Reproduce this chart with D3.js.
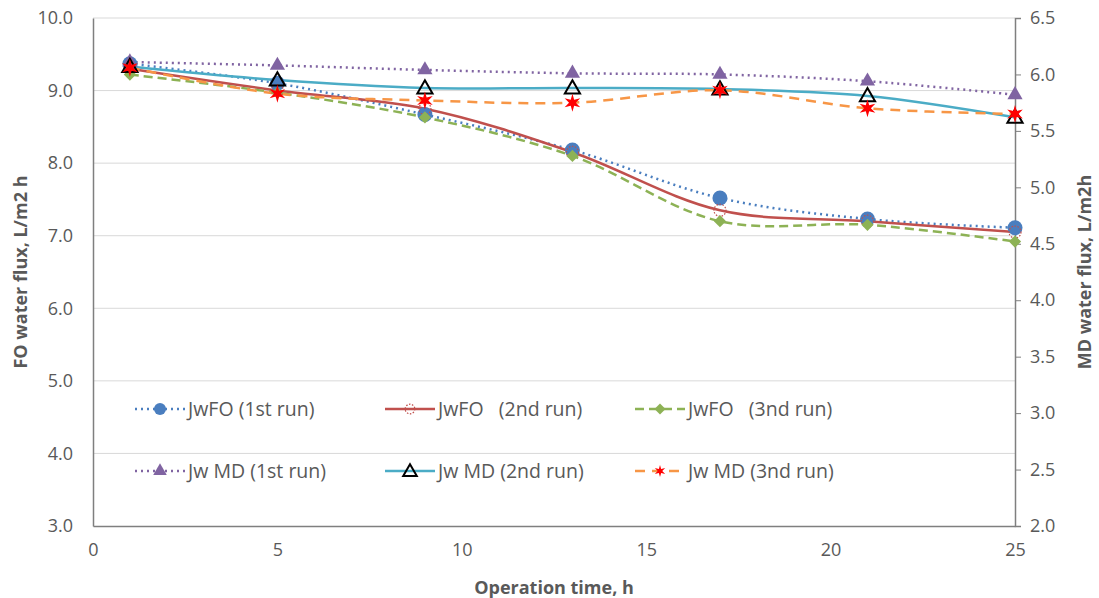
<!DOCTYPE html>
<html>
<head>
<meta charset="utf-8">
<script src="https://cdn.jsdelivr.net/npm/d3@7"></script>
<style>
  body { margin: 0; background: #fff; }
  text { font-family: "Open Sans", "Liberation Sans", sans-serif; fill: #595959; }
</style>
</head>
<body>
<svg id="chart" width="1099" height="598"></svg>
<script>
  // data
  var hours = [1, 5, 9, 13, 17, 21, 25];
  var foRun1 = [9.37, 9.10, 8.67, 8.18, 7.52, 7.23, 7.11];
  var foRun2 = [9.30, 9.00, 8.75, 8.15, 7.35, 7.20, 7.05];
  var foRun3 = [9.22, 8.97, 8.63, 8.10, 7.20, 7.15, 6.92];
  var mdRun1 = [6.11, 6.08, 6.04, 6.01, 6.00, 5.94, 5.82];
  var mdRun2 = [6.07, 5.95, 5.88, 5.88, 5.87, 5.81, 5.62];
  var mdRun3 = [6.06, 5.83, 5.77, 5.75, 5.86, 5.70, 5.65];
  var leftTicks = [3, 4, 5, 6, 7, 8, 9, 10];
  var rightTicks = [2, 2.5, 3, 3.5, 4, 4.5, 5, 5.5, 6, 6.5];
  var xTicks = [0, 5, 10, 15, 20, 25];

  var svg = d3.select('#chart'),
      margin = {top: 18, right: 84, bottom: 72, left: 93},
      width = 1099 - margin.left - margin.right,
      height = 598 - margin.top - margin.bottom,
      g = svg.append('g').attr('transform', 'translate(' + margin.left + ',' + margin.top + ')');

  var x = d3.scaleLinear().domain([0, 25]).range([0, width]);
  var yL = d3.scaleLinear().domain([3, 10]).range([height, 0]);
  var yR = d3.scaleLinear().domain([2, 6.5]).range([height, 0]);

  // grid lines
  g.append('g').selectAll('line')
      .data(leftTicks.slice(1))
    .enter().append('line')
      .attr('x1', 0).attr('x2', width)
      .attr('y1', function (d) { return yL(d); })
      .attr('y2', function (d) { return yL(d); })
      .attr('stroke', '#d9d9d9').attr('stroke-width', 1);

  // axes
  var axL = g.append('g')
      .call(d3.axisLeft(yL).tickValues(leftTicks).tickFormat(d3.format('.1f')).tickSize(0).tickPadding(20));
  var axB = g.append('g')
      .attr('transform', 'translate(0,' + height + ')')
      .call(d3.axisBottom(x).tickValues(xTicks).tickSize(0).tickPadding(17));
  var axR = g.append('g')
      .attr('transform', 'translate(' + width + ',0)')
      .call(d3.axisRight(yR).tickValues(rightTicks).tickFormat(d3.format('.1f')).tickSize(6).tickPadding(9));
  [axL, axB, axR].forEach(function (a) {
    a.select('.domain').attr('stroke', '#7f7f7f').attr('stroke-width', 1.5);
    a.selectAll('.tick line').attr('stroke', '#7f7f7f');
    a.selectAll('.tick text').style('font-size', '18px').attr('fill', '#595959');
  });

  // axis titles
  svg.append('text')
      .attr('x', margin.left + width / 2).attr('y', 594)
      .attr('text-anchor', 'middle')
      .style('font-size', '18px').style('font-weight', 'bold')
      .text('Operation time, h');
  svg.append('text')
      .attr('transform', 'translate(27,' + (margin.top + height / 2) + ') rotate(-90)')
      .attr('text-anchor', 'middle')
      .style('font-size', '18px').style('font-weight', 'bold')
      .text('FO water flux, L/m2 h');
  svg.append('text')
      .attr('transform', 'translate(1091,' + (margin.top + height / 2) + ') rotate(-90)')
      .attr('text-anchor', 'middle')
      .style('font-size', '18px').style('font-weight', 'bold')
      .text('MD water flux, L/m2h');

  var series = [
    {name: 'JwFO (1st run)', vals: foRun1, y: yL, color: '#4a7ebf', dash: '2,4', marker: 'circle'},
    {name: 'JwFO   (2nd run)', vals: foRun2, y: yL, color: '#c0504d', dash: null, marker: 'ring'},
    {name: 'JwFO   (3nd run)', vals: foRun3, y: yL, color: '#8db255', dash: '9,5', marker: 'diamond'},
    {name: 'Jw MD (1st run)', vals: mdRun1, y: yR, color: '#8064a2', dash: '2,4', marker: 'triFill'},
    {name: 'Jw MD (2nd run)', vals: mdRun2, y: yR, color: '#4bacc6', dash: null, marker: 'triOpen'},
    {name: 'Jw MD (3nd run)', vals: mdRun3, y: yR, color: '#f79646', dash: '10,7', marker: 'star'}
  ];

  // six pointed thin star, like the excel one
  function starPath(r) {
    var pts = d3.range(12).map(function (i) {
      var a = i * Math.PI / 6 - Math.PI / 2, rr = i % 2 ? r * 0.38 : r;
      return [rr * Math.cos(a), rr * Math.sin(a)];
    });
    return 'M' + pts.join('L') + 'Z';
  }

  function drawMarker(sel, s, cx, cy, small) {
    var k = small ? 0.8 : 1;
    if (s.marker === 'circle') {
      sel.append('circle').attr('cx', cx).attr('cy', cy).attr('r', 7.5 * k).attr('fill', s.color);
    } else if (s.marker === 'ring') {
      sel.append('circle').attr('cx', cx).attr('cy', cy).attr('r', 6 * k)
          .attr('fill', 'none').attr('stroke', s.color).attr('stroke-width', 1.2).attr('stroke-dasharray', '1.5,1.5');
    } else if (s.marker === 'diamond') {
      sel.append('path').attr('transform', 'translate(' + cx + ',' + cy + ') rotate(45)')
          .attr('d', d3.symbol().type(d3.symbolSquare).size(75 * k))
          .attr('fill', s.color);
    } else if (s.marker === 'triFill') {
      sel.append('path').attr('transform', 'translate(' + cx + ',' + cy + ')')
          .attr('d', d3.symbol().type(d3.symbolTriangle).size(100 * k))
          .attr('fill', s.color);
    } else if (s.marker === 'triOpen') {
      sel.append('path').attr('transform', 'translate(' + cx + ',' + (cy + 1) + ')')
          .attr('d', d3.symbol().type(d3.symbolTriangle).size(100 * k))
          .attr('fill', 'none').attr('stroke', '#000').attr('stroke-width', 2);
    } else if (s.marker === 'star') {
      sel.append('path').attr('transform', 'translate(' + cx + ',' + cy + ')')
          .attr('d', starPath(small ? 6 : 9))
          .attr('fill', '#ff0000');
    }
  }

  // lines then markers
  series.forEach(function (s) {
    var line = d3.line()
        .x(function (d, i) { return x(hours[i]); })
        .y(function (d) { return s.y(d); })
        .curve(d3.curveCatmullRom.alpha(0.5));
    g.append('path')
        .attr('d', line(s.vals))
        .attr('fill', 'none')
        .attr('stroke', s.color)
        .attr('stroke-width', 2.5)
        .attr('stroke-dasharray', s.dash);
  });
  series.forEach(function (s) {
    var mg = g.append('g');
    s.vals.forEach(function (v, i) { drawMarker(mg, s, x(hours[i]), s.y(v)); });
  });

  // legend
  var legX = [160, 410, 660], legY = [409, 471];
  series.forEach(function (s, i) {
    var lx = legX[i % 3], ly = legY[Math.floor(i / 3)];
    var lg = svg.append('g');
    lg.append('line')
        .attr('x1', lx - 25).attr('x2', lx + 25)
        .attr('y1', ly).attr('y2', ly)
        .attr('stroke', s.color).attr('stroke-width', 2.5)
        .attr('stroke-dasharray', s.dash);
    drawMarker(lg, s, lx, ly, true);
    lg.append('text')
        .attr('x', lx + 28).attr('y', ly + 7)
        .style('font-size', '19.5px')
        .style('white-space', 'pre')
        .attr('xml:space', 'preserve')
        .text(s.name);
  });
</script>
</body>
</html>
